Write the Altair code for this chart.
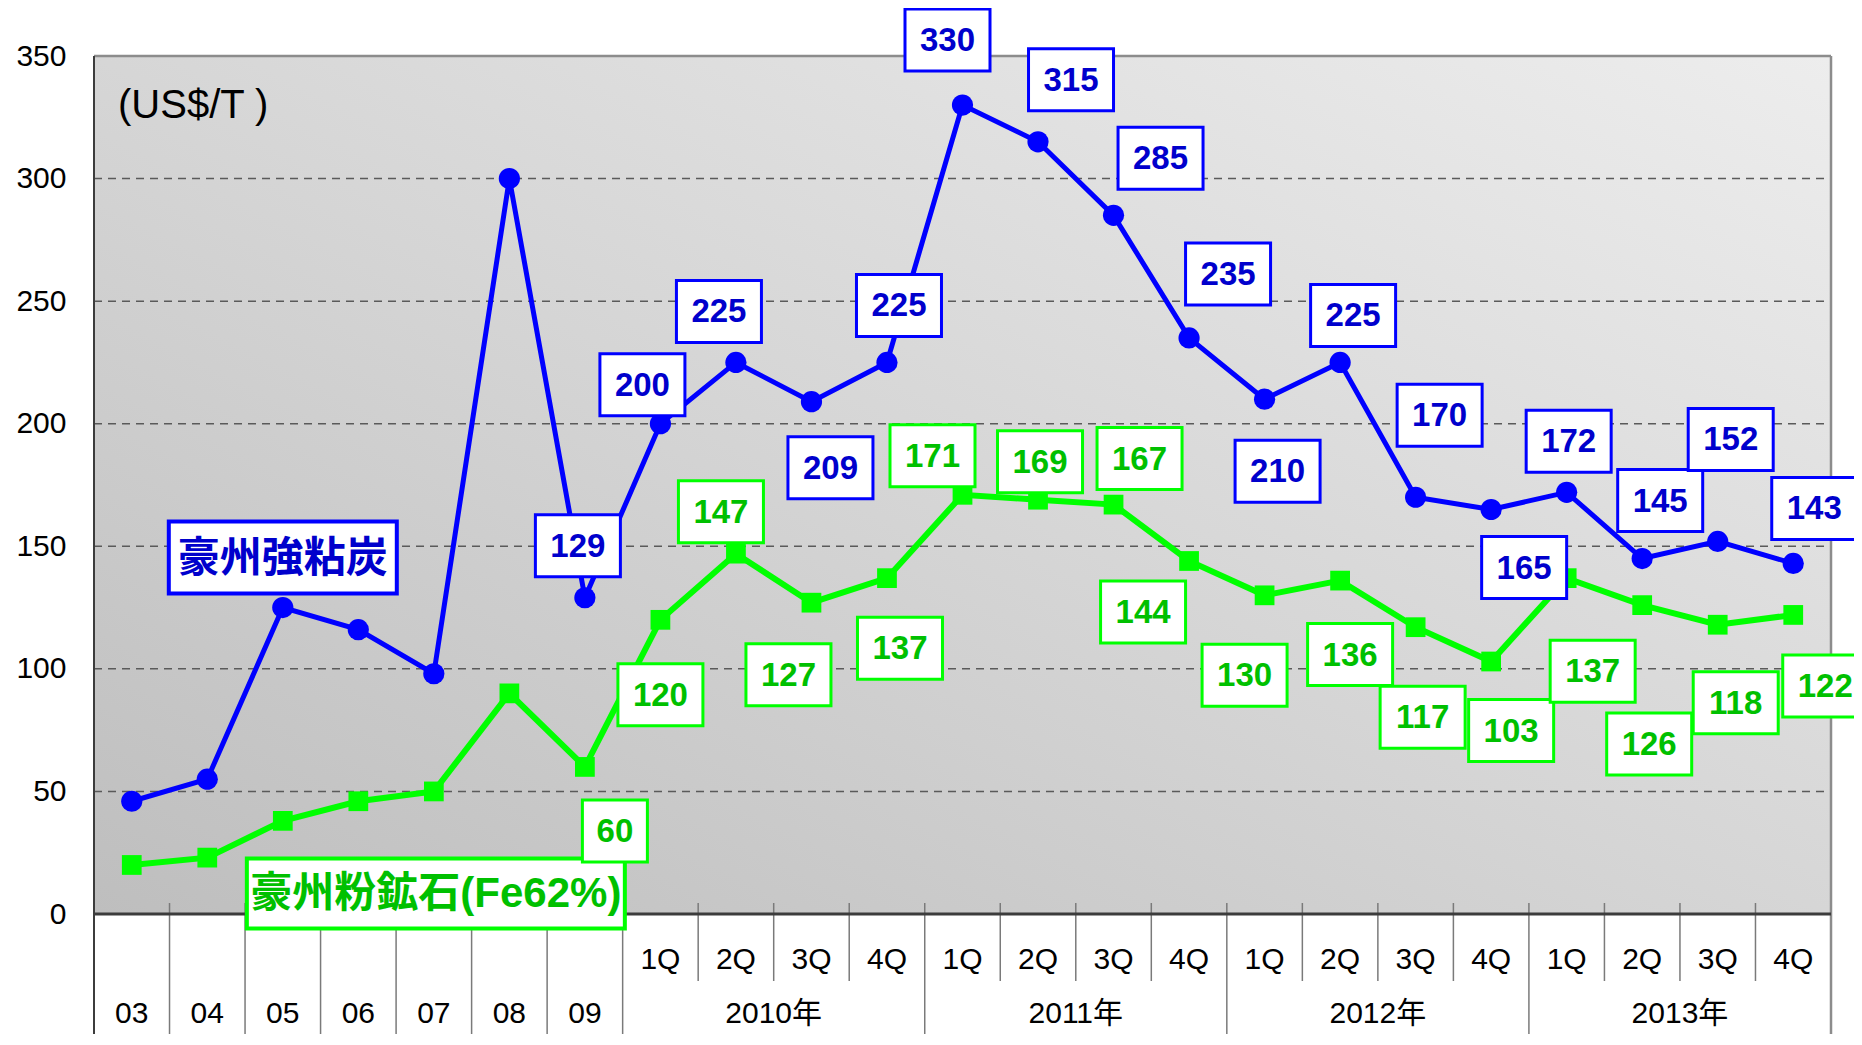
import altair as alt
import pandas as pd

# ---------------- data ----------------
categories = ["03", "04", "05", "06", "07", "08", "09",
              "2010 1Q", "2010 2Q", "2010 3Q", "2010 4Q",
              "2011 1Q", "2011 2Q", "2011 3Q", "2011 4Q",
              "2012 1Q", "2012 2Q", "2012 3Q", "2012 4Q",
              "2013 1Q", "2013 2Q", "2013 3Q", "2013 4Q"]
coal = [46, 55, 125, 116, 98, 300, 129,
        200, 225, 209, 225,
        330, 315, 285, 235,
        210, 225, 170, 165,
        172, 145, 152, 143]
iron = [20, 23, 38, 46, 50, 90, 60,
        120, 147, 127, 137,
        171, 169, 167, 144,
        130, 136, 117, 103,
        137, 126, 118, 122]
annual_labels = ["03", "04", "05", "06", "07", "08", "09"]
quarter_labels = ["1Q", "2Q", "3Q", "4Q"]
year_labels = ["2010年", "2011年", "2012年", "2013年"]
coal_name = "豪州強粘炭"
iron_name = "豪州粉鉱石(Fe62%)"
unit_text = "(US$/T )"
y_ticks = [0, 50, 100, 150, 200, 250, 300, 350]

# ---------------- layout ----------------
W, H = 1737, 858
N = len(categories)
PX = W / N
PY = H / 350.0
FONT = "Liberation Sans, Arial, Noto Sans CJK JP"
BLUE, BLUE_TXT = "#0000ff", "#0000cc"
GREEN, GREEN_TXT = "#00ff00", "#00c000"
HH = 31  # half height of value boxes (px)
first_label = 6
coal_offsets = [(-7, -52), (-18, -39), (-17, -51), (19, 66), (12, -57),
                (-15, -65), (33, -62), (47, -57), (39, -64),
                (13, 72), (13, -47), (24, -82), (33, 58),
                (2, -51), (18, -58), (13, -102), (21, -55)]
iron_offsets = [(30, 64), (0, 75), (-15, -42), (-23, 72), (13, 70),
                (-30, -39), (2, -38), (26, -46), (-46, 51),
                (-20, 80), (10, 74), (7, 90), (20, 69),
                (26, 93), (7, 139), (18, 78), (32, 71)]

xscale = alt.Scale(domain=[-0.5, N - 0.5], nice=False, zero=False)
yscale = alt.Scale(domain=[0, 350], nice=False)
yaxis = alt.Axis(values=y_ticks, labelFontSize=30, labelFont=FONT, labelColor="black",
                 labelPadding=28, ticks=False, domain=False, grid=False, title=None,
                 labelFlush=False, labelOverlap=False)


def X(field):
    return alt.X(field, type="quantitative", scale=xscale, axis=None)


def X2(field):
    return alt.X2(field)


def Y(field):
    return alt.Y(field, type="quantitative", scale=yscale, axis=yaxis)


series = pd.DataFrame({"i": list(range(N)), "cat": categories, "coal": coal, "iron": iron})


def label_frame(values, offsets):
    rows = []
    for k, (dx, dy) in enumerate(offsets):
        i = first_label + k
        v = values[i]
        txt = str(v)
        hw = 42.5 if len(txt) >= 3 else 32.5
        cx = i + dx / PX
        cy = v - dy / PY
        rows.append(dict(cx=cx, cy=cy, x1=cx - hw / PX, x2=cx + hw / PX,
                         y1=cy - HH / PY, y2=cy + HH / PY, t=txt))
    return pd.DataFrame(rows)


def name_frame(values, i, dx, dy, w, h, txt):
    cx = i + dx / PX
    cy = values[i] - dy / PY
    return pd.DataFrame([dict(cx=cx, cy=cy, x1=cx - w / 2 / PX, x2=cx + w / 2 / PX,
                              y1=cy - h / 2 / PY, y2=cy + h / 2 / PY, t=txt)])


coal_lab = label_frame(coal, coal_offsets)
iron_lab = label_frame(iron, iron_offsets)
coal_nm = name_frame(coal, 2, 0, -50, 228, 72, coal_name)
iron_nm = name_frame(iron, 4, 2, 102, 378, 70, iron_name)

# separators below the axis
n_annual = len(annual_labels)
long_b = [k - 0.5 for k in range(0, n_annual + 1)] + \
         [n_annual + 4 * (g + 1) - 0.5 for g in range(len(year_labels))]
short_b = [n_annual + 4 * g + q - 0.5 for g in range(len(year_labels)) for q in (1, 2, 3)]
long_df = pd.DataFrame({"b": long_b})
short_df = pd.DataFrame({"b": short_b})

q_df = pd.DataFrame({"i": list(range(n_annual, N)),
                     "t": [quarter_labels[(i - n_annual) % 4] for i in range(n_annual, N)]})
yr_pos = list(range(n_annual)) + [n_annual + 4 * g + 1.5 for g in range(len(year_labels))]
yr_df = pd.DataFrame({"i": yr_pos, "t": annual_labels + year_labels})
grid_df = pd.DataFrame({"g": y_ticks[1:-1]})
one = pd.DataFrame({"a": [0]})

BOTTOM = H + 120

bg = alt.Chart(one).mark_rect(
    fill=alt.LinearGradient(gradient="linear",
                            stops=[alt.GradientStop(color="#bebebe", offset=0),
                                   alt.GradientStop(color="#d6d6d6", offset=0.5),
                                   alt.GradientStop(color="#ededed", offset=1)],
                            x1=0, y1=1, x2=1, y2=0)
).encode(x=alt.value(0), x2=alt.value(W), y=alt.value(0), y2=alt.value(H))

grid = alt.Chart(grid_df).mark_rule(color="#5a5a5a", strokeWidth=1.5, strokeDash=[8, 6]).encode(
    y=Y("g"), x=alt.value(0), x2=alt.value(W))

sep_long = alt.Chart(long_df).mark_rule(color="#7a7a7a", strokeWidth=1.5).encode(
    x=X("b"), y=alt.value(H - 11), y2=alt.value(BOTTOM))
sep_short = alt.Chart(short_df).mark_rule(color="#7a7a7a", strokeWidth=1.5).encode(
    x=X("b"), y=alt.value(H - 11), y2=alt.value(H + 67))

top_line = alt.Chart(one).mark_rule(color="#8c8c8c", strokeWidth=2.5).encode(
    x=alt.value(0), x2=alt.value(W), y=alt.value(0))
right_line = alt.Chart(one).mark_rule(color="#8c8c8c", strokeWidth=2.5).encode(
    x=alt.value(W), y=alt.value(0), y2=alt.value(BOTTOM))
left_line = alt.Chart(one).mark_rule(color="#3c3c3c", strokeWidth=2).encode(
    x=alt.value(0), y=alt.value(0), y2=alt.value(BOTTOM))
bottom_line = alt.Chart(one).mark_rule(color="#3c3c3c", strokeWidth=3).encode(
    x=alt.value(0), x2=alt.value(W), y=alt.value(H))

base = alt.Chart(series)
coal_line = base.mark_line(color=BLUE, strokeWidth=5).encode(x=X("i"), y=Y("coal"))
iron_line = base.mark_line(color=GREEN, strokeWidth=6).encode(x=X("i"), y=Y("iron"))
coal_pts = base.mark_point(shape="circle", filled=True, size=450, color=BLUE, opacity=1).encode(
    x=X("i"), y=Y("coal"))
iron_pts = base.mark_square(size=390, color=GREEN, opacity=1).encode(x=X("i"), y=Y("iron"))


def boxes(df, stroke, sw):
    return alt.Chart(df).mark_rect(fill="white", stroke=stroke, strokeWidth=sw).encode(
        x=X("x1"), x2=X2("x2"), y=Y("y1"), y2=alt.Y2("y2"))


def texts(df, color, size):
    return alt.Chart(df).mark_text(font=FONT, fontWeight="bold", fontSize=size, color=color,
                                   align="center", baseline="middle", dy=1).encode(
        x=X("cx"), y=Y("cy"), text="t:N")


q_text = alt.Chart(q_df).mark_text(font=FONT, fontSize=30, color="black", align="center",
                                   baseline="middle").encode(
    x=X("i"), y=alt.value(H + 46), text="t:N")
yr_text = alt.Chart(yr_df).mark_text(font=FONT, fontSize=30, color="black", align="center",
                                     baseline="middle").encode(
    x=X("i"), y=alt.value(H + 100), text="t:N")
unit = alt.Chart(pd.DataFrame({"t": [unit_text]})).mark_text(
    font=FONT, fontSize=40, color="black", align="left", baseline="middle").encode(
    x=alt.value(24), y=alt.value(50), text="t:N")

chart = alt.layer(
    bg, grid, sep_long, sep_short, top_line, right_line, left_line, bottom_line,
    coal_line, iron_line, coal_pts, iron_pts,
    boxes(coal_nm, BLUE, 4), texts(coal_nm, BLUE_TXT, 42),
    boxes(iron_nm, GREEN, 4), texts(iron_nm, GREEN_TXT, 42),
    boxes(coal_lab, BLUE, 3), texts(coal_lab, BLUE_TXT, 33),
    boxes(iron_lab, GREEN, 3), texts(iron_lab, GREEN_TXT, 33),
    q_text, yr_text, unit,
).properties(
    width=W, height=H,
    autosize=alt.AutoSizeParams(type="none"),
    padding={"left": 86, "top": 48, "right": 1846 - 86 - W, "bottom": 1026 - 48 - H},
).configure_view(stroke="transparent").configure(background="white")

chart.save("out.html", embed_options={"renderer": "svg", "actions": False})
